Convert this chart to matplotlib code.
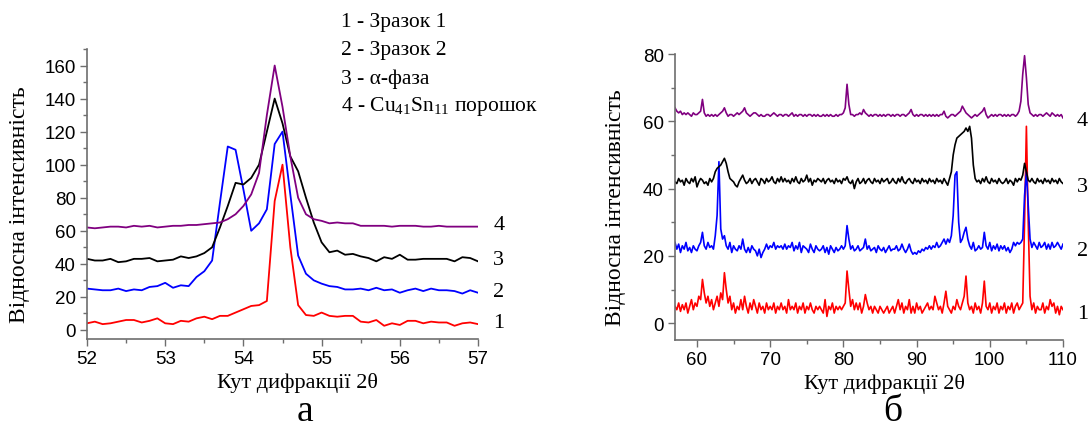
import numpy as np
import matplotlib
matplotlib.use("Agg")
import matplotlib.pyplot as plt
from matplotlib.ticker import MultipleLocator

# ---------------- data: panel (a) ----------------
angle_a = np.round(np.arange(52.0, 57.0001, 0.1), 2)

a_sample1 = [4, 5, 3.5, 4, 5, 6, 6, 4.5, 5.5, 7,
             4, 3.5, 5.5, 5, 7, 8, 6.5, 8.5, 8.5, 10.5,
             12.5, 14.5, 15, 17.5, 78, 100, 50, 15, 9, 8.5,
             10.5, 8.5, 8, 8.5, 8.5, 5, 4.5, 6, 2.5, 4,
             3, 5.5, 5.5, 4, 5, 4.5, 4.5, 2.5, 4, 4.5, 3.5]
a_sample2 = [25, 24.5, 24, 24, 25, 23.5, 24.5, 24, 26, 26.5,
             28.5, 25.5, 27, 26.5, 32, 35.5, 42, 77, 111, 109,
             85, 60, 64.5, 73, 112.5, 120, 82, 45, 34, 30,
             28, 26.5, 26, 24.5, 24.5, 25, 24, 25.5, 24, 24.5,
             22.5, 24, 25, 23.5, 25, 24, 24, 23.5, 22, 24, 22.5]
a_alpha = [43, 42, 42, 43, 41, 41.5, 43, 43, 43.5, 41.5,
           42, 42.5, 44.5, 43.5, 44.5, 46.5, 50, 62, 75, 89,
           88, 92, 100, 120, 140, 125, 105, 96, 80, 65,
           53, 47, 48, 45.5, 46, 44.5, 43.5, 41.5, 44, 43,
           45.5, 42.5, 42.5, 43, 43, 43, 43, 41.5, 44, 43.5, 41.5]
a_powder = [62, 61.5, 62, 62.5, 62.5, 62, 63, 62.5, 63, 62,
            62.5, 63, 63, 63.5, 63.5, 64, 64.5, 65, 67, 70,
            75, 82, 95, 130, 160, 135, 105, 80, 70, 67,
            66, 64.5, 65, 64.5, 64.5, 63, 63, 63, 63, 62.5,
            63, 63, 63, 62.5, 62.5, 63, 62.5, 62.5, 62.5, 62.5, 62.5]

# ---------------- data: panel (b) ----------------
angle_b = np.round(np.arange(57.0, 110.0001, 0.25), 2)

b_sample1 = [5, 4, 6, 3.5, 5.5, 4, 6, 3, 5, 7, 4, 6, 5, 8, 7, 13, 9, 6, 8, 5,
             7, 4, 6, 8, 5, 9, 7, 15, 10, 6, 8, 4, 6, 3, 5, 4, 7, 4, 8, 5,
             3, 6, 4, 7, 5, 3, 6, 4, 5, 3, 6, 4, 5, 4, 6, 3, 5, 4, 6, 4,
             5, 3, 7, 4, 5, 4, 6, 3, 5, 4, 6, 3, 5, 4, 6, 4, 3, 5, 4, 5,
             4, 3, 7, 2, 5, 4, 6, 3, 5, 4, 5, 4, 5, 6, 15.5, 10, 5, 7, 4, 6,
             4, 6, 3, 5, 8.5, 6, 4, 5, 3, 5, 4, 3, 5, 4, 3, 4, 5, 3, 4, 5,
             3, 5, 7, 4, 6, 3, 5, 4, 7, 3, 5, 3, 6, 4, 5, 3, 4, 5, 6, 4,
             5, 4, 8, 6, 4, 5, 3, 6, 9.5, 5, 4, 3, 5, 4, 7, 5, 4, 6, 8, 14,
             6, 4, 5, 3, 6, 4, 5, 3, 6, 12.5, 5, 4, 6, 3, 5, 4, 6, 3, 5, 4,
             6, 3, 5, 4, 6, 3, 5, 6, 4, 5, 6, 30, 58.5, 30, 8, 4, 6, 3, 5, 4,
             4, 6, 3, 5, 4, 7, 5, 6, 3, 5, 2.5, 5, 4]
b_sample2 = [24, 22, 23.5, 21, 23, 22, 24, 21.5, 22.5, 21, 23, 22, 21.5, 23, 24, 27, 23, 22, 24, 22.5,
             23, 22, 26, 32, 48, 28, 25, 26, 23, 22, 24, 21, 23, 22, 21.5, 23, 22, 25, 22, 21,
             22.5, 21, 23, 22, 21.5, 20, 22, 19.5, 21, 22, 23.5, 22, 23, 22.5, 24, 22, 23, 22.5, 23, 22,
             23.5, 22, 23, 22.5, 24, 21.5, 23, 22, 24, 21, 23, 22.5, 22, 21, 23.5, 22, 21, 23, 22, 21.5,
             22, 23, 21, 22.5, 20.5, 23, 22, 21, 22.5, 21.5, 22, 23, 22, 23, 29, 25, 22, 23, 21.5, 22,
             23, 21.5, 22, 22.5, 25, 22, 23, 21.5, 22, 22.5, 21, 23, 22, 21.5, 22.5, 21, 22, 23, 21.5, 22,
             22, 23, 21.5, 22, 23.5, 22, 21, 22, 23.5, 21.5, 20.5, 21, 20.5, 21.5, 21, 22, 21.5, 22.5, 22, 23,
             22, 23, 22.5, 24, 22.5, 23, 24, 25, 23.5, 25, 24, 26, 32, 44, 45, 30, 24, 25, 27, 28.5,
             25, 23, 22, 24, 21.5, 22, 23, 22, 22.5, 27, 23, 22, 24, 21.5, 23, 22, 23.5, 21.5, 23, 22,
             23, 21.5, 22.5, 21, 22, 24, 23, 24, 23.5, 24, 25, 38, 45, 35, 25, 22.5, 24, 23, 22, 24,
             22.5, 23, 24, 22, 23.5, 22, 24, 22.5, 23, 24, 23, 22, 23.5]
b_alpha = [42, 41.5, 43, 42, 42.5, 41, 43, 42, 41.5, 43, 42, 43.5, 40.5, 42, 43, 42.5, 41.5, 42, 41, 43,
           42, 43, 45, 46, 46.5, 47, 48, 49, 47.5, 45, 43, 42.5, 42, 41, 40.5, 42, 43, 44, 42.5, 41.5,
           42, 43, 41.5, 42.5, 43, 42, 41, 43, 42.5, 41.5, 43, 42, 42.5, 43.5, 42, 41.5, 43, 42, 43.5, 42,
           43, 42, 42.5, 41.5, 43, 42, 43.5, 42, 41.5, 43, 42, 42.5, 44, 42, 43, 41, 42.5, 42, 43, 42.5,
           42, 43, 41.5, 42.5, 43, 42, 42.5, 41.5, 43, 42, 42.5, 41.5, 43, 42.5, 43.5, 42, 41.5, 42.5, 40, 42,
           43, 41.5, 42, 43, 41.5, 42.5, 43, 42, 41.5, 43, 42, 42.5, 41.5, 43, 42, 42.5, 43, 41.5, 42, 43,
           42, 41.5, 43, 42, 43.5, 42, 41.5, 42.5, 43, 42, 41.5, 43, 42, 42.5, 41.5, 43, 42, 42.5, 41.5, 43,
           42, 42.5, 41.5, 43, 42, 42.5, 41.5, 43, 42, 41, 43, 45, 50, 53, 55, 55.5, 56, 56.5, 57, 58,
           57, 58.5, 55, 47, 43, 42, 42.5, 41.5, 43, 42, 43.5, 42, 41.5, 43, 42, 42.5, 41.5, 43, 42, 41.5,
           42, 43, 41.5, 42.5, 42, 41, 43, 42, 43, 42.5, 44, 47.5, 45, 42.5, 42, 43, 42, 41.5, 43, 42,
           42.5, 41.5, 43, 42, 42.5, 41.5, 43, 42, 42.5, 41.5, 43, 42, 41.5]
b_powder = [64, 63, 62.5, 63, 62, 62.5, 62, 62.5, 62, 61.5, 62.5, 62, 62, 62.5, 63, 66.5, 62.5, 61.5, 62, 61.5,
            62, 61.5, 62, 61.5, 62, 62.5, 63, 64, 62.5, 61.5, 62, 62, 61.5, 62, 62.5, 62, 62.5, 63, 64, 62.5,
            62, 61.5, 62, 62.5, 62.5, 62, 61.5, 62, 61.5, 61.5, 62, 62, 61.5, 62, 62.5, 62, 61.5, 62, 62, 61.5,
            62, 62, 61.5, 62, 62.5, 61.5, 62, 61.5, 62, 62, 61.5, 62, 61.5, 62, 62, 61.5, 62, 61.5, 62, 61.5,
            61.5, 62, 61.5, 62, 61.5, 62, 61.5, 61.5, 62, 61.5, 62, 62, 62.5, 64, 71, 65, 62, 62, 61.5, 62,
            62, 62.5, 62, 63.5, 62.5, 62, 61.5, 62, 61.5, 62, 62, 61.5, 62, 61.5, 62, 61.5, 62, 62, 61.5, 62,
            61.5, 62, 62, 61.5, 62, 62, 61.5, 62, 62.5, 63.5, 62, 61.5, 62, 61.5, 62, 62, 61.5, 62, 61.5, 62,
            61.5, 62, 61.5, 62, 61.5, 62, 62, 63, 61.5, 61, 61.5, 62, 62, 61.5, 62, 62.5, 63, 64.5, 63.5, 62.5,
            62, 61.5, 61, 61.5, 62, 61.5, 62, 62.5, 63, 64, 62, 61, 61.5, 62, 61.5, 62, 61.5, 62, 62, 61.5,
            62, 61.5, 62, 61.5, 62, 62, 61.5, 62, 63, 66, 74, 79.5, 73, 65, 62.5, 62, 61.5, 62, 61.5, 62,
            62, 61.5, 62, 62.5, 62, 61.5, 62.5, 62, 61.5, 62, 61.5, 62, 61]

series_colors = ["#ff0000", "#0000ff", "#000000", "#800080"]
series_tags = ["1", "2", "3", "4"]
legend_lines = ["1 - Зразок 1", "2 - Зразок 2", "3 - α-фаза",
                "4 - Cu$_{41}$Sn$_{11}$ порошок"]
xlabel_text = "Кут дифракції 2θ"
ylabel_text = "Відносна інтенсивність"
panel_tags = ["а", "б"]

SERIF = ["Liberation Serif", "DejaVu Serif"]
SANS = ["Liberation Sans", "DejaVu Sans"]
plt.rcParams["mathtext.fontset"] = "custom"
plt.rcParams["mathtext.rm"] = "Liberation Serif"
plt.rcParams["mathtext.it"] = "Liberation Serif:italic"

fig = plt.figure(figsize=(10.91, 4.39), dpi=100)
W, H = 1091, 439


def make_axes(l, r, t, b):
    return fig.add_axes([l / W, 1 - b / H, (r - l) / W, (b - t) / H])


boxA = (87, 478, 50, 340)
boxB = (675, 1063, 55, 341)
axA = make_axes(*boxA)
axB = make_axes(*boxB)

SPINE = "#6e6e6e"
for ax, box, ylab_xy in ((axA, boxA, (20, 205)), (axB, boxB, (615, 208))):
    for s in ("top", "right"):
        ax.spines[s].set_visible(False)
    for s in ("left", "bottom"):
        ax.spines[s].set_color(SPINE)
        ax.spines[s].set_linewidth(1.2)
    ax.tick_params(which="both", direction="out", color=SPINE, labelsize=13.5,
                   labelcolor="black")
    ax.tick_params(which="major", length=5, width=1.0, pad=3)
    ax.tick_params(which="minor", length=3, width=1.0)
    ax.set_xlabel(xlabel_text, family=SERIF, fontsize=16, labelpad=3)
    l, r, t, b = box
    ax.xaxis.set_label_coords(0.5 + 15 / (r - l), -0.115)
    ax.patch.set_alpha(0)
    fig.text(ylab_xy[0] / W, 1 - ylab_xy[1] / H, ylabel_text, family=SERIF,
             fontsize=17, rotation=90, ha="center", va="center")

# panel a
for ys, c in zip([a_sample1, a_sample2, a_alpha, a_powder], series_colors):
    axA.plot(angle_a, ys, color=c, lw=1.3)
axA.set_xlim(52, 57)
axA.set_ylim(-5.5, 170)
axA.xaxis.set_major_locator(MultipleLocator(1))
axA.xaxis.set_minor_locator(MultipleLocator(0.5))
axA.yaxis.set_major_locator(MultipleLocator(20))
axA.yaxis.set_minor_locator(MultipleLocator(10))
for tag, ys in zip(series_tags, [a_sample1, a_sample2, a_alpha, a_powder]):
    axA.annotate(tag, xy=(57, ys[-1] + 1), xytext=(15, 0), textcoords="offset points",
                 va="center", ha="center", family=SERIF, fontsize=16,
                 annotation_clip=False)

# panel b
for ys, c in zip([b_sample1, b_sample2, b_alpha, b_powder], series_colors):
    axB.plot(angle_b, ys, color=c, lw=1.2)
axB.set_xlim(57, 110)
axB.set_ylim(-5, 80)
axB.xaxis.set_major_locator(MultipleLocator(10))
axB.xaxis.set_minor_locator(MultipleLocator(5))
axB.yaxis.set_major_locator(MultipleLocator(20))
axB.yaxis.set_minor_locator(MultipleLocator(10))
for tag, ys in zip(series_tags, [b_sample1, b_sample2, b_alpha, b_powder]):
    axB.annotate(tag, xy=(110, np.mean(ys[-6:]) - 1.5), xytext=(14, 0),
                 textcoords="offset points", va="center", ha="center",
                 family=SERIF, fontsize=16, annotation_clip=False)

for ax in (axA, axB):
    for lab in ax.get_xticklabels() + ax.get_yticklabels():
        lab.set_family(SANS)

# legend-like text block
for i, line in enumerate(legend_lines):
    fig.text(341 / W, 1 - (23 + 28 * i) / H, line, family=SERIF, fontsize=15.5,
             va="center", ha="left")

# panel tags
fig.text(305 / W, 1 - 412 / H, panel_tags[0], family=SERIF, fontsize=27,
         ha="center", va="center")
fig.text(893 / W, 1 - 412 / H, panel_tags[1], family=SERIF, fontsize=27,
         ha="center", va="center")

fig.savefig("out.png", dpi=100, facecolor="white")
